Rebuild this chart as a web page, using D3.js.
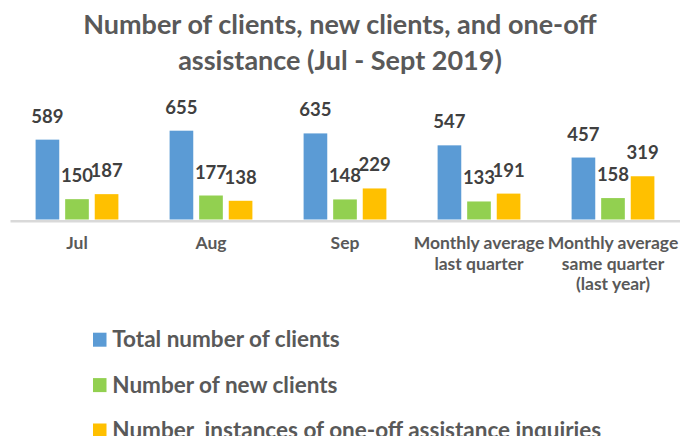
<!DOCTYPE html>
<html>
<head>
<meta charset="utf-8">
<script src="https://cdn.jsdelivr.net/npm/d3@7"></script>
<style>
  body { margin: 0; background: #fff; }
  text { font-family: Lato, "Open Sans", sans-serif; font-weight: bold; fill: #595959; }
</style>
</head>
<body>
<div id="container"></div>
<script>
"use strict";

const width = 680;
const height = 436;

// data
const categories = ["Jul", "Aug", "Sep", "Monthly average last quarter", "Monthly average same quarter (last year)"];
const categoryLines = [
  ["Jul"],
  ["Aug"],
  ["Sep"],
  ["Monthly average", "last quarter"],
  ["Monthly average", "same quarter", "(last year)"],
];
const seriesNames = [
  "Total number of clients",
  "Number of new clients",
  "Number  instances of one-off assistance inquiries",
];
const totalClients = [589, 655, 635, 547, 457];
const newClients = [150, 177, 148, 133, 158];
const oneOffInquiries = [187, 138, 229, 191, 319];
const titleLines = ["Number of clients, new clients, and one-off", "assistance (Jul - Sept 2019)"];

const colors = ["#5B9BD5", "#92D050", "#FFC000"];
const seriesValues = [totalClients, newClients, oneOffInquiries];

const baseY = 219.5;

const svg = d3
  .select("#container")
  .append("svg")
  .attr("width", width)
  .attr("height", height);

// title
svg
  .selectAll(".title")
  .data(titleLines)
  .enter()
  .append("text")
  .attr("class", "title")
  .attr("x", 340)
  .attr("y", (d, i) => 34 + i * 36)
  .attr("text-anchor", "middle")
  .style("font-size", "27px")
  .text((d) => d);

const x0 = d3.scaleBand().domain(categories).range([10, 680]);
const x1 = d3
  .scaleBand()
  .domain(seriesNames)
  .range([25.6, x0.bandwidth() - 25.6])
  .paddingInner(0.2);
const y = d3.scaleLinear().domain([0, 700]).range([baseY, baseY - 94.9]);

const rows = [];
categories.forEach((c, i) => {
  seriesNames.forEach((s, j) => {
    rows.push({ cat: c, series: s, value: seriesValues[j][i], color: colors[j] });
  });
});

svg
  .selectAll("rect.bar")
  .data(rows)
  .enter()
  .append("rect")
  .attr("class", "bar")
  .attr("x", (d) => x0(d.cat) + x1(d.series))
  .attr("y", (d) => y(d.value))
  .attr("width", x1.bandwidth())
  .attr("height", (d) => baseY - y(d.value))
  .attr("fill", (d) => d.color);

svg
  .selectAll("text.label")
  .data(rows)
  .enter()
  .append("text")
  .attr("class", "label")
  .attr("x", (d) => x0(d.cat) + x1(d.series) + x1.bandwidth() / 2)
  .attr("y", (d) => y(d.value) - 17)
  .attr("text-anchor", "middle")
  .style("font-size", "18.5px")
  .style("fill", "#404040")
  .text((d) => d.value);

// x axis
const xAxis = d3.axisBottom(x0).tickSize(0).tickSizeOuter(0);
const gx = svg
  .append("g")
  .attr("id", "x-axis")
  .attr("transform", `translate(0, ${baseY + 1.25})`)
  .call(xAxis);
gx.select(".domain").attr("stroke", "#d9d9d9").attr("stroke-width", 2.5);
gx.selectAll(".tick text").remove();
gx.selectAll(".tick")
  .append("text")
  .attr("text-anchor", "middle")
  .style("font-size", "17.5px")
  .selectAll("tspan")
  .data((d) => categoryLines[categories.indexOf(d)])
  .enter()
  .append("tspan")
  .attr("x", 0)
  .attr("y", (d, i) => 28.4 + i * 20.5)
  .text((d) => d);

// legend
const legend = svg
  .selectAll(".legend")
  .data(seriesNames)
  .enter()
  .append("g")
  .attr("class", "legend")
  .attr("transform", (d, i) => `translate(93, ${332.7 + i * 45.4})`);

legend
  .append("rect")
  .attr("width", 13.5)
  .attr("height", 14)
  .attr("fill", (d, i) => colors[i]);

legend
  .append("text")
  .attr("x", 19.3)
  .attr("y", 14.5)
  .style("font-size", "22.5px")
  .style("white-space", "pre")
  .text((d) => d);
</script>
</body>
</html>
